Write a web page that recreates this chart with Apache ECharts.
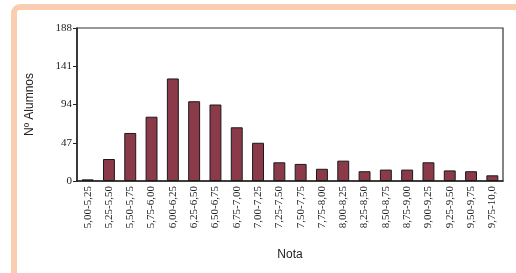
<!DOCTYPE html>
<html>
<head>
<meta charset="utf-8">
<script src="https://cdn.jsdelivr.net/npm/echarts@6/dist/echarts.min.js"></script>
<style>
    html, body { margin: 0; padding: 0; background: #fff; }
    .frame {
        position: absolute;
        left: 11px;
        top: 4px;
        width: 600px;
        height: 400px;
        border: 6px solid #fbcdb0;
        border-radius: 9px;
        box-sizing: border-box;
    }
    #chart { position: absolute; left: 0; top: 0; width: 516px; height: 273px; }
</style>
</head>
<body>
<div class="frame"></div>
<div id="chart"></div>
<script>
    // tramos de nota
    var categories = ['5,00-5,25', '5,25-5,50', '5,50-5,75', '5,75-6,00', '6,00-6,25',
        '6,25-6,50', '6,50-6,75', '6,75-7,00', '7,00-7,25', '7,25-7,50',
        '7,50-7,75', '7,75-8,00', '8,00-8,25', '8,25-8,50', '8,50-8,75',
        '8,75-9,00', '9,00-9,25', '9,25-9,50', '9,50-9,75', '9,75-10,0'];
    // nº de alumnos por tramo
    var alumnos = [2, 27, 59, 79, 126, 98, 94, 66, 47, 23, 21, 15, 25, 12, 14, 14, 23, 13, 12, 7];
    var yTicks = [0, 47, 94, 141, 188];

    var myChart = echarts.init(document.getElementById('chart'));
    myChart.setOption({
        animation: false,
        grid: {
            left: 77,
            right: 13,
            top: 28,
            bottom: 92,
            show: true,
            borderColor: '#333',
            borderWidth: 1.2
        },
        xAxis: {
            type: 'category',
            data: categories,
            name: 'Nota',
            nameLocation: 'middle',
            nameGap: 68,
            nameTextStyle: { fontFamily: 'Liberation Sans', fontSize: 12, color: '#222' },
            axisLine: { lineStyle: { color: '#222', width: 1.5 } },
            axisTick: { length: 4, lineStyle: { color: '#222' } },
            axisLabel: {
                rotate: 90,
                interval: 0,
                margin: 5,
                fontFamily: 'Liberation Serif',
                fontSize: 11,
                color: '#222'
            }
        },
        yAxis: {
            type: 'value',
            min: yTicks[0],
            max: yTicks[yTicks.length - 1],
            interval: 47,
            name: 'Nº Alumnos',
            nameLocation: 'middle',
            nameGap: 41,
            nameTextStyle: { fontFamily: 'Liberation Sans', fontSize: 12, color: '#222' },
            splitLine: { show: false },
            axisLine: { show: true, lineStyle: { color: '#222', width: 1.5 } },
            axisTick: { show: true, length: 4, lineStyle: { color: '#222' } },
            axisLabel: {
                margin: 5,
                fontFamily: 'Liberation Serif',
                fontSize: 11,
                color: '#222'
            }
        },
        series: [{
            type: 'bar',
            data: alumnos,
            barWidth: '56%',
            itemStyle: {
                color: '#8b3a4a',
                borderColor: '#1a1a1a',
                borderWidth: 1
            }
        }]
    });
</script>
</body>
</html>
